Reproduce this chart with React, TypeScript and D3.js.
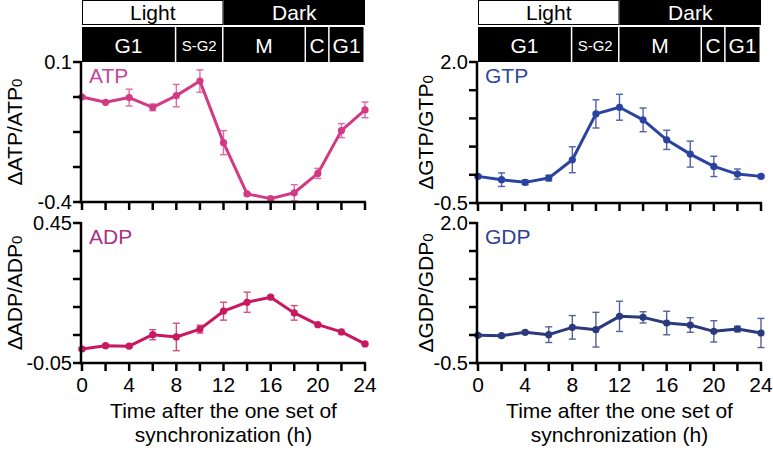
import React from "react";
import * as d3 from "d3";

const times = [0, 2, 4, 6, 8, 10, 12, 14, 16, 18, 20, 22, 24];

const atpMean = [-0.025, -0.044, -0.027, -0.062, -0.02, 0.032, -0.188, -0.371, -0.388, -0.367, -0.298, -0.145, -0.071];
const atpErr = [0.004, 0.004, 0.03, 0.012, 0.04, 0.04, 0.043, 0.004, 0.005, 0.029, 0.018, 0.025, 0.028];

const adpMean = [0.0, 0.012, 0.01, 0.051, 0.043, 0.071, 0.135, 0.167, 0.185, 0.129, 0.087, 0.061, 0.018];
const adpErr = [0.004, 0.004, 0.004, 0.018, 0.049, 0.014, 0.032, 0.036, 0.005, 0.026, 0.004, 0.004, 0.004];

const gtpMean = [-0.028, -0.087, -0.134, -0.058, 0.267, 1.08, 1.198, 0.974, 0.62, 0.367, 0.149, 0.013, -0.028];
const gtpErr = [0.02, 0.12, 0.04, 0.05, 0.23, 0.25, 0.23, 0.21, 0.17, 0.23, 0.18, 0.09, 0.02];

const gdpMean = [-0.006, -0.012, 0.048, 0.006, 0.137, 0.095, 0.333, 0.315, 0.214, 0.179, 0.065, 0.107, 0.036];
const gdpErr = [0.02, 0.02, 0.02, 0.14, 0.21, 0.31, 0.27, 0.1, 0.21, 0.13, 0.19, 0.05, 0.26];

const atpTicks = [-0.4, -0.275, -0.15, -0.025, 0.1];
const atpTickLabels = ["-0.4", "", "", "", "0.1"];
const adpTicks = [-0.05, 0.05, 0.15, 0.25, 0.35, 0.45];
const adpTickLabels = ["-0.05", "", "", "", "", "0.45"];
const gTicks = [-0.5, 0.0, 0.5, 1.0, 1.5, 2.0];
const gTickLabels = ["-0.5", "", "", "", "", "2.0"];

const xTicks = [0, 2, 4, 6, 8, 10, 12, 14, 16, 18, 20, 22, 24];
const xTickLabels = ["0", "", "4", "", "8", "", "12", "", "16", "", "20", "", "24"];

const lightLabels = ["Light", "Dark"];
const lightStart = [0, 12];
const lightEnd = [12, 24];
const phaseLabels = ["G1", "S-G2", "M", "C", "G1"];
const phaseStart = [0, 8, 12, 19, 21];
const phaseEnd = [8, 12, 19, 21, 24];

const FONT = "'Liberation Sans', Arial, Helvetica, sans-serif";

type PanelProps = {
  x0: number;
  x1: number;
  yTop: number;
  yBot: number;
  domain: [number, number];
  ticks: number[];
  tickLabels: string[];
  mean: number[];
  err: number[];
  color: string;
  errColor: string;
  labelColor: string;
  name: string;
  titleX: number;
  showXLabels: boolean;
};

function Panel(p: PanelProps) {
  const x = d3.scaleLinear().domain([0, 24]).range([p.x0, p.x1]);
  const y = d3.scaleLinear().domain(p.domain).range([p.yBot, p.yTop]);
  const line = d3
    .line<number>()
    .x((_, i) => x(times[i]))
    .y((d) => y(d));
  const axisX = p.x0 - 1;
  const midY = (p.yTop + p.yBot) / 2;
  return (
    <g>
      {p.mean.map((m, i) => {
        const cx = x(times[i]);
        const lo = y(m - p.err[i]);
        const hi = y(m + p.err[i]);
        return (
          <g key={"e" + i} stroke={p.errColor} strokeWidth={1.4}>
            <line x1={cx} x2={cx} y1={lo} y2={hi} />
            <line x1={cx - 3.5} x2={cx + 3.5} y1={lo} y2={lo} />
            <line x1={cx - 3.5} x2={cx + 3.5} y1={hi} y2={hi} />
          </g>
        );
      })}
      <path d={line(p.mean) || ""} fill="none" stroke={p.color} strokeWidth={3} strokeLinejoin="round" />
      {p.mean.map((m, i) => (
        <circle key={"c" + i} cx={x(times[i])} cy={y(m)} r={3.6} fill={p.color} />
      ))}
      <line x1={axisX} x2={axisX} y1={p.yTop - 1} y2={p.yBot + 1.25} stroke="#000" strokeWidth={2.5} />
      {p.ticks.map((t, i) => (
        <g key={"yt" + i}>
          <line x1={axisX - 8} x2={axisX} y1={y(t)} y2={y(t)} stroke="#000" strokeWidth={2.5} />
          {p.tickLabels[i] && (
            <text
              x={axisX - 9}
              y={y(t)}
              dy="0.36em"
              textAnchor="end"
              fontSize={20}
              fontFamily={FONT}
              fill="#000"
            >
              {p.tickLabels[i]}
            </text>
          )}
        </g>
      ))}
      <line x1={axisX - 1.25} x2={p.x1 + 1} y1={p.yBot} y2={p.yBot} stroke="#000" strokeWidth={2.5} />
      {xTicks.map((t, i) => (
        <g key={"xt" + i}>
          <line x1={x(t)} x2={x(t)} y1={p.yBot} y2={p.yBot + 8} stroke="#000" strokeWidth={2.5} />
          {p.showXLabels && xTickLabels[i] && (
            <text x={x(t)} y={p.yBot + 29} textAnchor="middle" fontSize={21} fontFamily={FONT} fill="#000">
              {xTickLabels[i]}
            </text>
          )}
        </g>
      ))}
      <text
        transform={`translate(${p.titleX},${midY}) rotate(-90)`}
        textAnchor="middle"
        fontSize={21}
        fontFamily={FONT}
        fill="#000"
      >
        {"\u0394" + p.name + "/" + p.name}
        <tspan fontSize={15}>0</tspan>
      </text>
      <text x={p.x0 + 7} y={p.yTop + 21} fontSize={21} fontFamily={FONT} fill={p.labelColor}>
        {p.name}
      </text>
      {p.showXLabels && (
        <text textAnchor="middle" fontSize={21} fontFamily={FONT} fill="#000">
          <tspan x={(p.x0 + p.x1) / 2} y={p.yBot + 55}>
            Time after the one set of
          </tspan>
          <tspan x={(p.x0 + p.x1) / 2} y={p.yBot + 79}>
            synchronization (h)
          </tspan>
        </text>
      )}
    </g>
  );
}

function Header({ x0, x1 }: { x0: number; x1: number }) {
  const x = d3.scaleLinear().domain([0, 24]).range([x0, x1]);
  return (
    <g fontFamily={FONT}>
      {lightLabels.map((l, i) => {
        const a = x(lightStart[i]);
        const b = x(lightEnd[i]);
        const dark = l === "Dark";
        return (
          <g key={"l" + i}>
            <rect
              x={a + 0.5}
              y={0.5}
              width={b - a - 1}
              height={24}
              fill={dark ? "#000" : "#fff"}
              stroke="#000"
              strokeWidth={1}
            />
            <text x={(a + b) / 2} y={20} textAnchor="middle" fontSize={21} fill={dark ? "#fff" : "#000"}>
              {l}
            </text>
          </g>
        );
      })}
      {phaseLabels.map((l, i) => {
        const a = x(phaseStart[i]);
        const b = x(phaseEnd[i]);
        const small = l === "S-G2";
        return (
          <g key={"p" + i}>
            <rect x={a} y={27} width={b - a - 1.5} height={35} fill="#000" />
            <text
              x={(a + b - 1.5) / 2}
              y={small ? 51 : 53}
              textAnchor="middle"
              fontSize={small ? 15 : 21}
              fill="#fff"
            >
              {l}
            </text>
          </g>
        );
      })}
    </g>
  );
}

export default function App() {
  return (
    <svg width={773} height={451} style={{ display: "block", position: "absolute", left: 0, top: 0 }}>
      <rect width={773} height={451} fill="#fff" />
      <Header x0={82} x1={365} />
      <Header x0={478} x1={761} />
      <Panel
        x0={82}
        x1={365}
        yTop={62}
        yBot={202}
        domain={[-0.4, 0.1]}
        ticks={atpTicks}
        tickLabels={atpTickLabels}
        mean={atpMean}
        err={atpErr}
        color="#d23a85"
        errColor="#dc6aa5"
        labelColor="#c4479a"
        name="ATP"
        titleX={22}
        showXLabels={false}
      />
      <Panel
        x0={82}
        x1={365}
        yTop={223}
        yBot={363}
        domain={[-0.05, 0.45]}
        ticks={adpTicks}
        tickLabels={adpTickLabels}
        mean={adpMean}
        err={adpErr}
        color="#c8185f"
        errColor="#cc4f82"
        labelColor="#a83288"
        name="ADP"
        titleX={22}
        showXLabels={true}
      />
      <Panel
        x0={478}
        x1={761}
        yTop={62}
        yBot={203}
        domain={[-0.5, 2.0]}
        ticks={gTicks}
        tickLabels={gTickLabels}
        mean={gtpMean}
        err={gtpErr}
        color="#2b43a0"
        errColor="#5060aa"
        labelColor="#2f48a0"
        name="GTP"
        titleX={433}
        showXLabels={false}
      />
      <Panel
        x0={478}
        x1={761}
        yTop={223}
        yBot={363}
        domain={[-0.5, 2.0]}
        ticks={gTicks}
        tickLabels={gTickLabels}
        mean={gdpMean}
        err={gdpErr}
        color="#2b3a7c"
        errColor="#55609a"
        labelColor="#2f4190"
        name="GDP"
        titleX={433}
        showXLabels={true}
      />
    </svg>
  );
}
